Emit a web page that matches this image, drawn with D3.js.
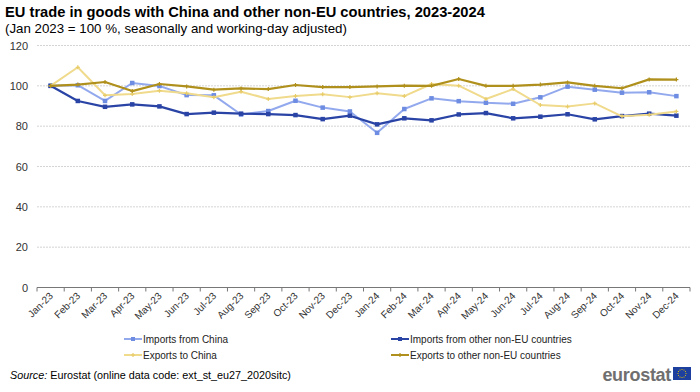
<!DOCTYPE html>
<html>
<head>
<meta charset="utf-8">
<script src="https://cdn.jsdelivr.net/npm/d3@7"></script>
<style>
  body { margin: 0; background: #fff; }
  svg { font-family: "Liberation Sans", Arial, sans-serif; }
</style>
</head>
<body>
<svg id="chart" width="700" height="392"></svg>
<script>
// ========== Data ==========

const months = [
    "Jan-23", "Feb-23", "Mar-23", "Apr-23", "May-23", "Jun-23", "Jul-23", "Aug-23",
    "Sep-23", "Oct-23", "Nov-23", "Dec-23", "Jan-24", "Feb-24", "Mar-24", "Apr-24",
    "May-24", "Jun-24", "Jul-24", "Aug-24", "Sep-24", "Oct-24", "Nov-24", "Dec-24"
];

const importsChina = [
    100, 100.3, 92.5, 101.4, 99.9, 95.4, 95.3, 85.8, 87.5, 92.6, 89.2, 87.3,
    76.7, 88.5, 93.8, 92.4, 91.6, 91.1, 94.3, 99.6, 98.1, 96.6, 96.8, 94.9
];

const importsOther = [
    100, 92.5, 89.6, 90.8, 89.8, 86.0, 86.7, 86.2, 86.0, 85.5, 83.5, 85.2,
    80.9, 83.9, 82.9, 85.8, 86.5, 83.9, 84.7, 85.9, 83.4, 85.0, 86.2, 85.2
];

const exportsChina = [
    100, 109.2, 95.3, 95.9, 97.6, 96.3, 94.3, 97.1, 93.5, 94.9, 95.8, 94.4,
    96.3, 94.9, 100.9, 100.1, 93.5, 98.4, 90.5, 89.7, 91.3, 84.9, 85.7, 87.3
];

const exportsOther = [
    100, 100.6, 101.9, 97.4, 100.9, 99.7, 98.1, 98.7, 98.4, 100.4, 99.4, 99.4,
    99.7, 100.1, 100.0, 103.4, 100.0, 100.0, 100.6, 101.7, 100.0, 98.8, 103.2, 103.1
];

const yTicks = [0, 20, 40, 60, 80, 100, 120];

const series = [
    { name: "Imports from China", values: importsChina, line: "#93a9ee", marker: "#6e8de2", width: 2, shape: "square" },
    { name: "Imports from other non-EU countries", values: importsOther, line: "#2a44a6", marker: "#2a44a6", width: 2.2, shape: "square" },
    { name: "Exports to China", values: exportsChina, line: "#f0da8c", marker: "#e8cc6a", width: 2, shape: "cross" },
    { name: "Exports to other non-EU countries", values: exportsOther, line: "#b0901c", marker: "#b0901c", width: 2.2, shape: "cross" }
];

// ========== Chart ==========

const svg = d3.select("#chart");

svg.append("text")
    .attr("x", 5).attr("y", 17)
    .attr("font-size", 14.7).attr("font-weight", "bold").attr("fill", "#000")
    .text("EU trade in goods with China and other non-EU countries, 2023-2024");

svg.append("text")
    .attr("x", 5).attr("y", 33)
    .attr("font-size", 13.3).attr("fill", "#000")
    .text("(Jan 2023 = 100 %, seasonally and working-day adjusted)");

const x = d3.scaleBand()
    .domain(months)
    .range([37, 690]);

const y = d3.scaleLinear()
    .domain([0, 120])
    .range([287.5, 45.5]);

const cx = m => x(m) + x.bandwidth() / 2;

// gridlines
svg.append("g")
    .selectAll("line")
    .data(yTicks.filter(t => t > 0))
    .join("line")
    .attr("x1", 37).attr("x2", 690)
    .attr("y1", d => y(d)).attr("y2", d => y(d))
    .attr("stroke", "#d4d4d4")
    .attr("stroke-width", 1)
    .attr("stroke-dasharray", "2,1");

// y axis labels
svg.append("g")
    .selectAll("text")
    .data(yTicks)
    .join("text")
    .attr("x", 28)
    .attr("y", d => y(d) + 4)
    .attr("text-anchor", "end")
    .attr("font-size", 11)
    .attr("fill", "#333")
    .text(d => d);

// x axis
const xAxis = svg.append("g")
    .attr("transform", `translate(0,${y(0)})`);

xAxis.append("line")
    .attr("x1", 37).attr("x2", 690)
    .attr("stroke", "#777").attr("stroke-width", 1);

xAxis.selectAll(".tick")
    .data(months.concat(["end"]))
    .join("line")
    .attr("x1", (d, i) => i < months.length ? x(d) : x.range()[1])
    .attr("x2", (d, i) => i < months.length ? x(d) : x.range()[1])
    .attr("y1", 0).attr("y2", 4)
    .attr("stroke", "#777");

xAxis.selectAll(".xlabel")
    .data(months)
    .join("text")
    .attr("transform", d => `translate(${cx(d) + 3},${9}) rotate(-45)`)
    .attr("text-anchor", "end")
    .attr("font-size", 10)
    .attr("fill", "#333")
    .text(d => d);

// lines
const line = d3.line()
    .x((d, i) => cx(months[i]))
    .y(d => y(d));

function drawMarker(g, shape, color, px, py, size) {
    if (shape === "square") {
        g.append("rect")
            .attr("x", px - size / 2).attr("y", py - size / 2)
            .attr("width", size).attr("height", size)
            .attr("fill", color);
    } else {
        g.append("path")
            .attr("d", `M${px - size / 2},${py}H${px + size / 2}M${px},${py - size / 2}V${py + size / 2}`)
            .attr("stroke", color).attr("stroke-width", 1.2);
    }
}

series.forEach(s => {
    const g = svg.append("g");
    g.append("path")
        .datum(s.values)
        .attr("fill", "none")
        .attr("stroke", s.line)
        .attr("stroke-width", s.width)
        .attr("stroke-linejoin", "round")
        .attr("d", line);
    s.values.forEach((v, i) => {
        drawMarker(g, s.shape, s.marker, cx(months[i]), y(v), s.shape === "square" ? 4.5 : 4);
    });
});

// ========== Legend ==========

const legendPos = [
    { x: 124, y: 339 },
    { x: 391, y: 339 },
    { x: 124, y: 355 },
    { x: 391, y: 355 }
];

series.forEach((s, i) => {
    const p = legendPos[i];
    const g = svg.append("g");
    g.append("line")
        .attr("x1", p.x).attr("x2", p.x + 18)
        .attr("y1", p.y).attr("y2", p.y)
        .attr("stroke", s.line).attr("stroke-width", 2);
    drawMarker(g, s.shape, s.marker, p.x + 9, p.y, 4);
    g.append("text")
        .attr("x", p.x + 19).attr("y", p.y + 3.5)
        .attr("font-size", 10)
        .attr("fill", "#222")
        .text(s.name);
});

// ========== Footer ==========

const src = svg.append("text")
    .attr("x", 10).attr("y", 379)
    .attr("font-size", 10.8)
    .attr("fill", "#000");
src.append("tspan").attr("font-style", "italic").text("Source:");
src.append("tspan").text(" Eurostat (online data code: ext_st_eu27_2020sitc)");

svg.append("text")
    .attr("x", 671).attr("y", 381)
    .attr("text-anchor", "end")
    .attr("font-size", 18)
    .attr("font-weight", "bold")
    .attr("fill", "#6f6f6f")
    .attr("letter-spacing", -0.3)
    .text("eurostat");

const flag = svg.append("g").attr("transform", "translate(673,367)");
flag.append("rect").attr("width", 18).attr("height", 13).attr("fill", "#1d3f9e");
d3.range(12).forEach(k => {
    const a = k / 12 * 2 * Math.PI;
    flag.append("circle")
        .attr("cx", 9 + 4 * Math.cos(a))
        .attr("cy", 6.5 + 4 * Math.sin(a))
        .attr("r", 0.55)
        .attr("fill", "#f5d000");
});
</script>
</body>
</html>
